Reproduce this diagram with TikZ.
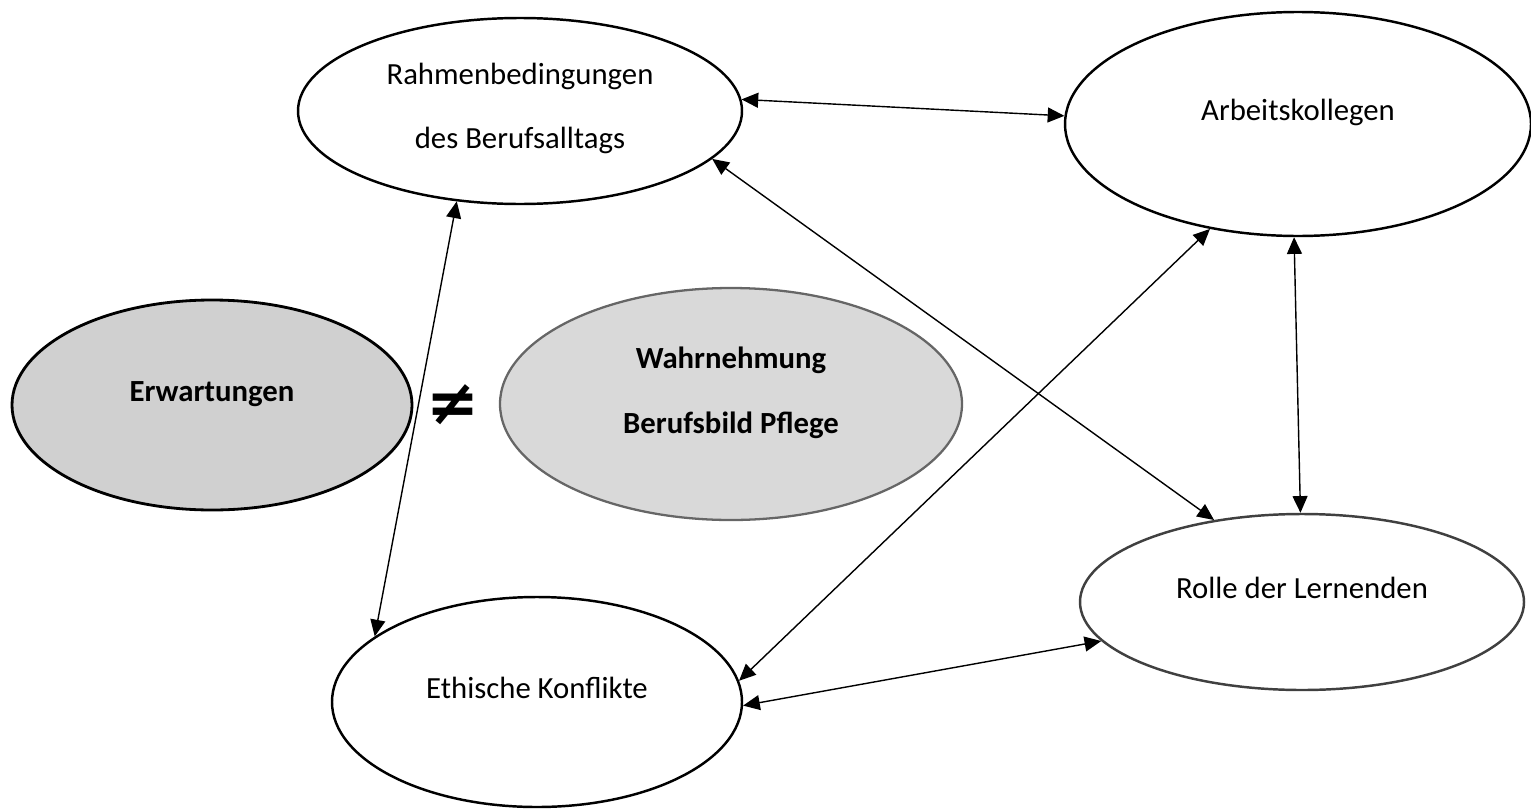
\documentclass[tikz,border=0pt]{standalone}
\usepackage{fontspec}
\setmainfont{Carlito}
\newfontfamily\symfont{DejaVu Sans}
\usepackage{xcolor}
\usepackage{tikz}
\usetikzlibrary{shapes.geometric, positioning}
\usetikzlibrary{arrows.meta}
\tikzset{>={Triangle[width=8.5pt,length=9.5pt]}}
\definecolor{grayA}{HTML}{D0D0D0}
\definecolor{grayB}{HTML}{D9D9D9}

\begin{document}
\begin{tikzpicture}[x=0.02cm, y=-0.02cm, ellnode/.style={ellipse, draw=black, fill=white, line width=1.4pt, inner sep=0pt, align=center, text height=12pt, text depth=15.6pt, font=\fontsize{17.5}{36}\selectfont}, greynode/.style={ellnode, font=\bfseries\fontsize{17.5}{37}\selectfont}, conn/.style={<->, line width=0.8pt}]
    \useasboundingbox (0,0) rectangle (1531,808);

    %Nodes
    \node[ellnode, text height=46.2pt, text depth=4pt, minimum width=444*0.02cm, minimum height=186*0.02cm](rahmen) at (520,111){Rahmenbedingungen\\des Berufsalltags};
    \node[ellnode, minimum width=466*0.02cm, minimum height=224*0.02cm](kollegen) at (1298,124){Arbeitskollegen};
    \node[greynode, fill=grayA, line width=1.6pt, minimum width=400*0.02cm, minimum height=210*0.02cm](erwartung) at (212,405){Erwartungen};
    \node[greynode, text height=37.4pt, text depth=4pt, fill=grayB, draw=black!60, line width=1.3pt, minimum width=462*0.02cm, minimum height=232*0.02cm](wahrnehmung) at (731,404){Wahrnehmung\\Berufsbild Pflege};
    \node[ellnode, minimum width=410*0.02cm, minimum height=210*0.02cm](ethik) at (537,702){Ethische Konflikte};
    \node[ellnode, draw=black!75, minimum width=444*0.02cm, minimum height=176*0.02cm](rolle) at (1302,602){Rolle der Lernenden};
    \node[font=\symfont\bfseries\fontsize{36}{36}\selectfont](neq) at (453,405){≠};

    %Lines
    \draw[conn] (rahmen.3) -- (kollegen.178.5);
    \draw[conn] (rahmen.-14.4) -- (rolle.137.6);
    \draw[conn] (rahmen.-125.8) -- (ethik.158.8);
    \draw[conn] (kollegen.-130.9) -- (ethik.6);
    \draw[conn] (kollegen.-92.5) -- (rolle.91.3);
    \draw[conn] (ethik.-1.6) -- (rolle.-169.3);

\end{tikzpicture}
\end{document}
